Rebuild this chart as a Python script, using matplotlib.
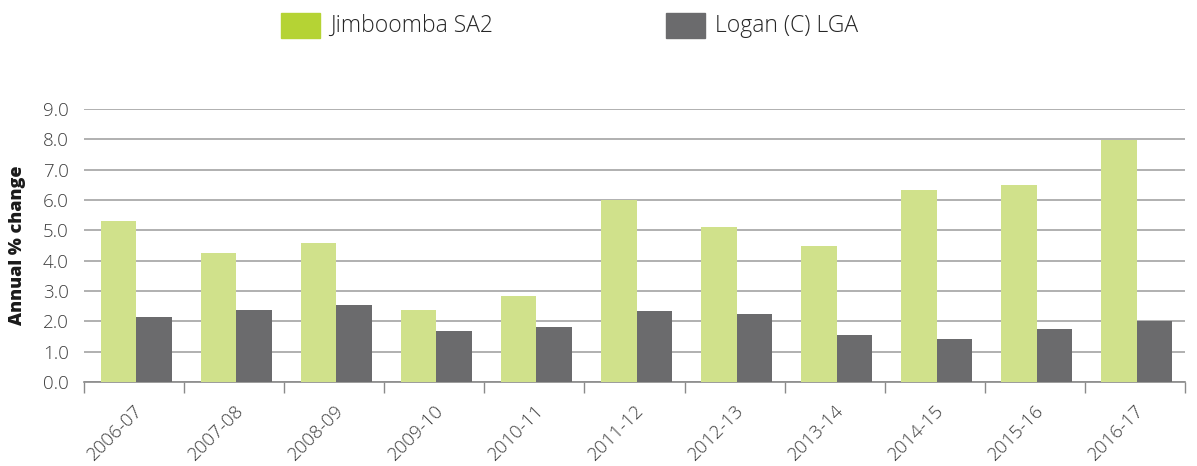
import matplotlib
matplotlib.use("Agg")
import matplotlib.pyplot as plt
import numpy as np
from matplotlib.patches import Rectangle

categories = ["2006-07", "2007-08", "2008-09", "2009-10", "2010-11", "2011-12",
              "2012-13", "2013-14", "2014-15", "2015-16", "2016-17"]
series_names = ["Jimboomba SA2", "Logan (C) LGA"]
jimboomba = [5.31, 4.25, 4.58, 2.37, 2.84, 6.00, 5.11, 4.48, 6.33, 6.50, 7.98]
logan = [2.14, 2.37, 2.54, 1.68, 1.81, 2.34, 2.24, 1.55, 1.42, 1.75, 2.01]
yticks = [0.0, 1.0, 2.0, 3.0, 4.0, 5.0, 6.0, 7.0, 8.0, 9.0]

bar_colors = ["#d0e18b", "#6b6b6d"]
legend_colors = ["#b5d334", "#6b6b6d"]
text_color = "#3d3d3d"

plt.rcParams['font.family'] = ['Open Sans', 'DejaVu Sans']

W, H = 1197, 466
fig = plt.figure(figsize=(W / 100, H / 100), dpi=100)
ax = fig.add_axes([84 / W, (H - 382) / H, (1185 - 84) / W, (382 - 109) / H])

x = np.arange(len(categories))
bw = 0.355
ax.bar(x - bw / 2 + 0.02, jimboomba, width=bw, color=bar_colors[0], zorder=3)
ax.bar(x + bw / 2 + 0.02, logan, width=bw, color=bar_colors[1], zorder=3)

ax.set_xlim(-0.5, len(categories) - 0.5)
ax.set_ylim(0, 9)
ax.set_yticks(yticks)
ax.set_yticklabels([f"{v:.1f}" for v in yticks], fontsize=13.5, color=text_color,
                   fontweight='light')
ax.tick_params(axis='y', length=0, pad=11)
ax.yaxis.grid(True, color="#a3a3a3", linewidth=1.2, zorder=0)
ax.set_axisbelow(True)

ax.set_xticks(x)
ax.set_xticklabels(categories, rotation=45, ha='right', rotation_mode='anchor',
                   fontsize=13.5, color=text_color, fontweight='light')
ax.tick_params(axis='x', which='major', length=0, pad=14)
ax.set_xticks(np.arange(len(categories) + 1) - 0.5, minor=True)
ax.tick_params(axis='x', which='minor', length=8, width=1, color="#8a8a8a")

for s in ['top', 'right', 'left']:
    ax.spines[s].set_visible(False)
ax.spines['bottom'].set_color("#8a8a8a")
ax.spines['bottom'].set_linewidth(1.2)

ax.set_ylabel("Annual % change", fontsize=13, fontweight='heavy', color="#1a1a1a")
ax.yaxis.set_label_coords(-58 / (1185 - 84), 0.5)

# Legend
legend_x = [281, 666]
for name, col, lx in zip(series_names, legend_colors, legend_x):
    fig.patches.append(Rectangle((lx / W, (H - 38) / H), 39 / W, 25 / H,
                                 transform=fig.transFigure, color=col))
    fig.text((lx + 49) / W, (H - 26) / H, name, fontsize=16.5, color="#262626",
             va='center', ha='left', fontweight='light')

fig.savefig("out.png", dpi=100)
